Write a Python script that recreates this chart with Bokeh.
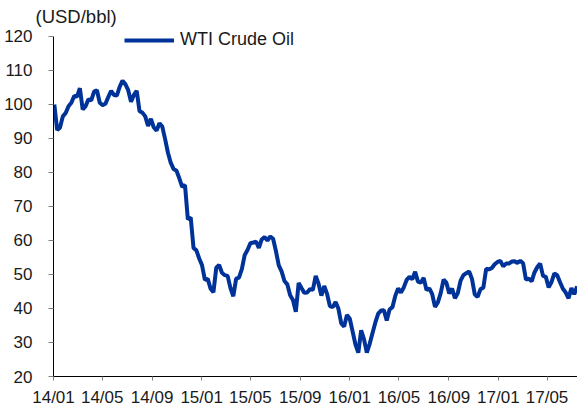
import pandas as pd
from bokeh.plotting import figure
from bokeh.models import (Range1d, FixedTicker, DatetimeTickFormatter,
                          Legend, LegendItem, Title)
from bokeh.embed import file_html
from bokeh.resources import INLINE

# Weekly (Friday) WTI crude oil prices, USD/bbl
wti_2014 = [100.0, 92.5, 93.2, 96.5, 97.5,
            99.5, 100.5, 102.5, 102.3,
            104.8, 98.5, 99.5, 101.5,
            101.2, 103.8, 104.2, 100.5,
            99.8, 100.2, 102.2, 104.0, 102.8,
            102.6, 105.2, 107.0, 106.0,
            104.2, 100.8, 102.8, 104.0,
            98.0, 97.6, 96.5, 93.7, 95.8,
            93.3, 92.3, 94.5, 93.5,
            89.8, 85.8, 82.8, 81.0, 80.5,
            78.3, 75.8, 76.3, 66.2,
            66.8, 57.8, 57.1, 54.7]
wti_2015 = [52.7, 48.4, 48.7, 45.8, 44.8,
            52.0, 52.8, 50.5, 49.8,
            49.6, 46.0, 43.6, 48.8,
            49.1, 51.6, 55.7, 57.2,
            59.2, 59.4, 59.7, 57.8, 60.3,
            61.0, 60.0, 61.2, 60.5,
            56.9, 52.7, 50.9, 48.1, 47.1,
            43.9, 42.5, 39.0, 47.5,
            46.0, 44.6, 44.7, 45.7,
            45.5, 49.6, 47.3, 43.8, 46.6,
            44.3, 40.7, 40.4, 41.9,
            39.9, 35.6, 34.7, 38.1]
wti_2016 = [37.0, 33.2, 29.4, 27.0, 33.6,
            30.9, 27.0, 29.6, 32.8,
            35.9, 38.5, 39.4, 39.5,
            36.5, 39.7, 40.4, 43.7, 45.9,
            44.7, 46.2, 48.4, 49.3,
            48.6, 50.8, 47.9, 47.6,
            49.0, 45.4, 45.9, 44.2, 40.5,
            41.8, 44.5, 48.5, 47.6,
            44.4, 45.9, 43.0, 44.5, 48.2,
            49.8, 50.4, 50.9, 48.7,
            44.1, 43.4, 45.7, 46.1,
            51.7, 51.5, 51.9, 53.0, 53.7]
wti_2017 = [54.0, 52.4, 53.2, 53.2,
            53.8, 53.9, 53.4, 54.0,
            53.3, 48.5, 48.8, 48.0, 50.6,
            52.2, 53.2, 49.6, 49.3,
            46.2, 47.8, 50.3, 49.8,
            47.7, 45.8, 44.7, 43.0, 46.0,
            44.2, 46.5]

prices = wti_2014 + wti_2015 + wti_2016 + wti_2017
dates = pd.date_range("2014-01-03", periods=len(prices), freq="W-FRI")

x_tick_labels = ["14/01", "14/05", "14/09", "15/01", "15/05", "15/09",
                 "16/01", "16/05", "16/09", "17/01", "17/05"]
y_ticks = [20, 30, 40, 50, 60, 70, 80, 90, 100, 110, 120]
y_min, y_max = 20, 120

tick_ms = [int(pd.Timestamp(f"20{t[:2]}-{t[3:]}-01").value // 10**6) for t in x_tick_labels]

FONT = "Liberation Sans"
BLUE = "#003399"

# layout (pixels)
W, H = 577, 409
left, top, bottom = 53, 27, 32
axis_px = 341                     # pixel length of the 20..120 axis
frame_h = H - top - bottom
y_top = y_min + (y_max - y_min) * frame_h / axis_px   # headroom for the legend

p = figure(width=W, height=H, x_axis_type="datetime",
           output_backend="svg", toolbar_location=None,
           x_range=Range1d(pd.Timestamp("2014-01-01"), pd.Timestamp("2017-07-15")),
           y_range=Range1d(y_min, y_top),
           min_border_left=left, min_border_right=0, min_border_top=top,
           min_border_bottom=bottom)

r = p.line(dates, prices, line_color=BLUE, line_width=4)

p.xgrid.visible = False
p.ygrid.visible = False
p.outline_line_color = None

p.title = Title(text="(USD/bbl)", align="left", offset=-18, standoff=1,
                text_font=FONT, text_font_size="18.5px", text_font_style="normal",
                text_color="#1a1a1a")

p.xaxis.ticker = FixedTicker(ticks=tick_ms)
fmt = "%y/%m"
p.xaxis.formatter = DatetimeTickFormatter(
    microseconds=fmt, milliseconds=fmt, seconds=fmt, minsec=fmt, minutes=fmt,
    hourmin=fmt, hours=fmt, days=fmt, months=fmt, years=fmt)
p.yaxis.ticker = FixedTicker(ticks=y_ticks)
p.yaxis.bounds = (y_min, y_max)

for ax in (p.xaxis[0], p.yaxis[0]):
    ax.axis_line_color = "black"
    ax.axis_line_width = 1
    ax.major_tick_line_color = "#7f7f7f"
    ax.minor_tick_line_color = None
    ax.major_tick_in = 0
    ax.major_label_text_font = FONT
    ax.major_label_text_font_size = "17px"
    ax.major_label_text_color = "#1a1a1a"

p.xaxis.major_tick_out = 4
p.xaxis.major_label_standoff = 7
p.yaxis.major_tick_out = 5
p.yaxis.major_label_standoff = 16

legend = Legend(items=[LegendItem(label="WTI Crude Oil", renderers=[r])],
                location=(71, 326), glyph_width=50, glyph_height=20,
                label_height=20, padding=0, margin=0, label_standoff=6,
                border_line_color=None, background_fill_alpha=0,
                label_text_font=FONT, label_text_font_size="18px",
                label_text_color="#1a1a1a")
p.add_layout(legend)

open("out.html", "w").write(file_html(p, INLINE))
